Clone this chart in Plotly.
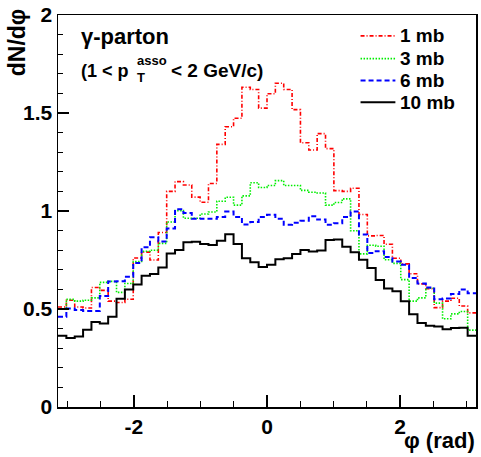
import numpy as np
import plotly.graph_objects as go

NBINS = 50
PHI_MIN, PHI_MAX = -np.pi, np.pi

series_names = ["1 mb", "3 mb", "6 mb", "10 mb"]

mb1 = [0.51, 0.545, 0.51, 0.505, 0.61, 0.595, 0.54, 0.533, 0.55, 0.76,
       0.79, 0.75, 0.89, 1.10, 1.15, 1.133, 1.071, 1.045, 1.14, 1.34,
       1.43, 1.473, 1.631, 1.62, 1.525, 1.598, 1.652, 1.62, 1.517, 1.348,
       1.311, 1.395, 1.318, 1.104, 1.10, 1.116, 0.982, 0.873, 0.875, 0.83,
       0.759, 0.73, 0.68, 0.628, 0.604, 0.507, 0.54, 0.555, 0.515, 0.48]

mb3 = [0.50, 0.549, 0.540, 0.545, 0.557, 0.636, 0.641, 0.585, 0.63, 0.742,
       0.795, 0.80, 0.835, 0.944, 1.002, 0.963, 0.963, 0.985, 0.995, 1.05,
       1.07, 1.03, 1.077, 1.144, 1.12, 1.13, 1.155, 1.13, 1.13, 1.105,
       1.096, 1.092, 1.03, 1.043, 1.062, 0.899, 0.781, 0.825, 0.82, 0.751,
       0.733, 0.65, 0.54, 0.557, 0.606, 0.53, 0.45, 0.475, 0.487, 0.392]

mb6 = [0.461, 0.503, 0.495, 0.490, 0.490, 0.566, 0.64, 0.641, 0.665, 0.735,
       0.815, 0.866, 0.845, 0.911, 1.009, 0.99, 0.96, 0.961, 0.961, 0.97,
       0.997, 0.97, 0.931, 0.944, 0.97, 0.981, 0.961, 0.93, 0.94, 0.95,
       0.973, 0.956, 0.93, 0.937, 0.97, 0.997, 0.88, 0.786, 0.795, 0.765,
       0.742, 0.726, 0.658, 0.63, 0.61, 0.55, 0.553, 0.576, 0.60, 0.58]

mb10 = [0.364, 0.352, 0.360, 0.394, 0.434, 0.426, 0.461, 0.552, 0.600, 0.625,
        0.670, 0.678, 0.712, 0.783, 0.801, 0.840, 0.843, 0.832, 0.827, 0.848,
        0.882, 0.832, 0.759, 0.739, 0.714, 0.726, 0.754, 0.759, 0.781, 0.801,
        0.793, 0.798, 0.852, 0.855, 0.818, 0.789, 0.751, 0.709, 0.648, 0.605,
        0.591, 0.540, 0.473, 0.428, 0.414, 0.411, 0.397, 0.403, 0.404, 0.364]

x_ticks = [-2, 0, 2]
y_ticks = [0, 0.5, 1, 1.5, 2]
y_ticklabels = ["0", "0.5", "1", "1.5", "2"]

edges = np.linspace(PHI_MIN, PHI_MAX, NBINS + 1)

styles = [
    dict(color="#ff0000", width=1.6, dash="4px,2px,1px,2px"),
    dict(color="#00ee00", width=1.6, dash="1.5px,1.5px"),
    dict(color="#0000ff", width=2.0, dash="5px,3px"),
    dict(color="#000000", width=2.0, dash="solid"),
]

fig = go.Figure()
for name, vals, st in zip(series_names, [mb1, mb3, mb6, mb10], styles):
    y = list(vals) + [vals[-1]]
    fig.add_trace(go.Scatter(x=edges, y=y, mode="lines", name=name,
                             showlegend=False, hoverinfo="skip",
                             line=dict(shape="hv", **st)))

W, H = 481, 457
L, R, T, B = 58, 3, 12, 50
PW, PH = W - L - R, H - T - B

def px(xp):
    return (xp - L) / PW

def py(yp):
    return (H - B - yp) / PH

FONT = "Liberation Sans, Arial, sans-serif"
bold = dict(family=FONT, color="black", weight="bold")

fig.update_layout(
    width=W, height=H,
    margin=dict(l=L, r=R, t=T, b=B),
    paper_bgcolor="white", plot_bgcolor="white",
    showlegend=False,
    xaxis=dict(range=[PHI_MIN, PHI_MAX], showgrid=False, zeroline=False,
               showline=True, linecolor="black", linewidth=1.5, mirror=True,
               ticks="inside", ticklen=12, tickwidth=1.2, tickcolor="black",
               tickvals=x_ticks, ticktext=[str(v) for v in x_ticks],
               tickfont=dict(size=21, **bold),
               minor=dict(ticks="inside", dtick=0.5, tick0=0, ticklen=6,
                          tickwidth=1.2, tickcolor="black")),
    yaxis=dict(range=[0, 2], showgrid=False, zeroline=False,
               showline=True, linecolor="black", linewidth=1.5, mirror=True,
               ticks="inside", ticklen=11, tickwidth=1.2, tickcolor="black",
               tickvals=y_ticks, ticktext=y_ticklabels,
               tickfont=dict(size=21, **bold),
               minor=dict(ticks="inside", dtick=0.1, tick0=0, ticklen=5,
                          tickwidth=1.2, tickcolor="black")),
)

ann = []
ann.append(dict(text="dN/d\u03c6", x=px(17), y=py(3), xref="paper", yref="paper",
                xanchor="center", yanchor="top", textangle=-90, showarrow=False,
                font=dict(size=23, **bold)))
ann.append(dict(text="\u03c6 (rad)", x=px(479), y=py(441), xref="paper", yref="paper",
                xanchor="right", yanchor="middle", showarrow=False,
                font=dict(size=22, **bold)))
ann.append(dict(text="\u03b3-parton", x=px(79), y=py(34), xref="paper", yref="paper",
                xanchor="left", yanchor="middle", showarrow=False,
                font=dict(size=22, **bold)))
ann.append(dict(text="(1 < p", x=px(79), y=py(68), xref="paper", yref="paper",
                xanchor="left", yanchor="middle", showarrow=False,
                font=dict(size=18, **bold)))
ann.append(dict(text="asso", x=px(135), y=py(58), xref="paper", yref="paper",
                xanchor="left", yanchor="middle", showarrow=False,
                font=dict(size=13, **bold)))
ann.append(dict(text="T", x=px(135), y=py(75), xref="paper", yref="paper",
                xanchor="left", yanchor="middle", showarrow=False,
                font=dict(size=13, **bold)))
ann.append(dict(text="< 2 GeV/c)", x=px(170), y=py(68), xref="paper", yref="paper",
                xanchor="left", yanchor="middle", showarrow=False,
                font=dict(size=19, **bold)))

# manual legend (sample lines + labels)
legend_rows = [33, 56, 78, 100]
shapes = []
for name, st, yr in zip(series_names, styles, legend_rows):
    shapes.append(dict(type="line", xref="paper", yref="paper",
                       x0=px(362), x1=px(397), y0=py(yr), y1=py(yr),
                       line=dict(color=st["color"], width=st["width"], dash=st["dash"])))
    ann.append(dict(text=name, x=px(400), y=py(yr), xref="paper", yref="paper",
                    xanchor="left", yanchor="middle", showarrow=False,
                    font=dict(size=19, **bold)))
fig.update_layout(annotations=ann, shapes=shapes)

fig.write_html("out.html", config={"displayModeBar": False, "staticPlot": True},
               post_script="document.body.style.margin='0';document.body.style.overflow='hidden';")
